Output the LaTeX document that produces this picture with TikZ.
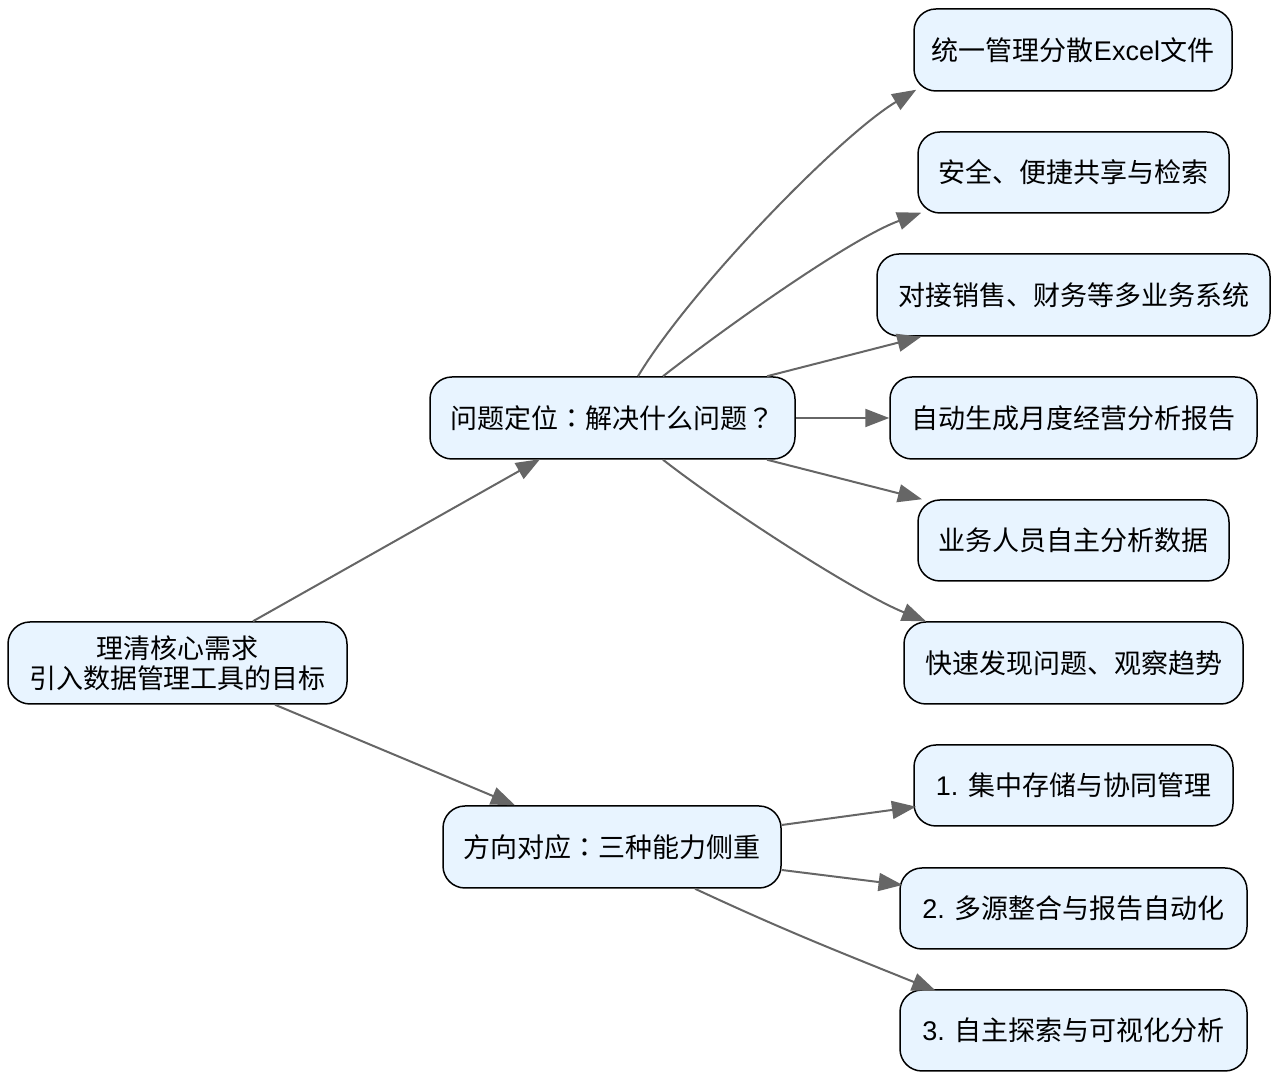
\documentclass[tikz,border=0pt]{standalone}
\usepackage{fontspec}
\setmainfont{Liberation Sans}
\newfontfamily\cjk{Noto Sans CJK SC}
\newfontfamily\jp{Noto Sans CJK JP}
\newfontfamily\lat{Liberation Sans}
\usetikzlibrary{arrows.meta,calc}
\definecolor{boxfill}{HTML}{E8F4FF}
\definecolor{edgegray}{HTML}{666666}
\tikzset{
  box/.style={draw=black, line width=1.5pt, fill=boxfill, rounded corners=22pt,
    inner sep=0pt, minimum height=82pt, align=center,
    font=\cjk\fontsize{27}{30}\selectfont},
  link/.style={draw=edgegray, line width=2pt, -{Triangle[length=24pt,width=18pt]}}
}
\begin{document}
\begin{tikzpicture}[x=1pt,y=1pt]
\useasboundingbox (0,0) rectangle (1280,1081);
\node[box, minimum width=339pt] (root) at (177.5,418) {理清核心需求\\引入数据管理工具的目标};
\node[box, minimum width=365pt] (A) at (612.5,663) {问题定位{\jp ：}解决什么问题{\jp ？}};
\node[box, minimum width=338pt] (B) at (612,234) {方向对应{\jp ：}三种能力侧重};
\node[box, minimum width=318pt] (n1) at (1073,1031) {统一管理分散{\lat Excel}文件};
\node[box, minimum width=311pt, minimum height=81pt] (n2) at (1073.5,908.5) {安全、便捷共享与检索};
\node[box, minimum width=393pt] (n3) at (1073.5,786) {对接销售、财务等多业务系统};
\node[box, minimum width=367pt] (n4) at (1073.5,663) {自动生成月度经营分析报告};
\node[box, minimum width=311pt, minimum height=81pt] (n5) at (1073.5,540.5) {业务人员自主分析数据};
\node[box, minimum width=339pt] (n6) at (1073.5,418) {快速发现问题、观察趋势};
\node[box, minimum width=319pt, minimum height=81pt] (n7) at (1073.5,295.5) {{\lat 1. }集中存储与协同管理};
\node[box, minimum width=347pt, minimum height=81pt] (n8) at (1073.5,172.5) {{\lat 2. }多源整合与报告自动化};
\node[box, minimum width=347pt, minimum height=81pt] (n9) at (1073.5,50.5) {{\lat 3. }自主探索与可视化分析};

\draw[link] ($(root.north)+(75.5,0)$) -- ($(A.south)+(-72.5,0.5)$);
\draw[link] ($(root.south)+(97.5,0)$) -- ($(B.north)+(-97,0)$);

\draw[link] ($(A.north)+(25.5,0)$) to[out=59,in=211,out distance=101pt,in distance=90pt] ($(n1.south west)+(3,2)$);
\draw[link] ($(A.north)+(50.5,0)$) to[out=38,in=200,out distance=80pt,in distance=75pt] ($(n2.south west)+(4,1)$);
\draw[link] ($(A.north)+(154.5,0)$) -- ($(n3.south west)+(45,0)$);
\draw[link] (A.east) -- (n4.west);
\draw[link] ($(A.south)+(154.5,0)$) -- ($(n5.north west)+(4.7,0)$);
\draw[link] ($(A.south)+(50.5,0)$) to[out=-38,in=158,out distance=80pt,in distance=75pt] ($(n6.north west)+(22.7,0)$);

\draw[link] ($(B.east)+(0,22)$) -- ($(n7.west)+(2.7,-21.2)$);
\draw[link] ($(B.east)+(0,-23)$) -- ($(n8.west)+(3.3,23.5)$);
\draw[link] ($(B.south)+(83,0)$) to[out=-25,in=158] ($(n9.north west)+(36.7,-1.7)$);
\end{tikzpicture}
\end{document}
